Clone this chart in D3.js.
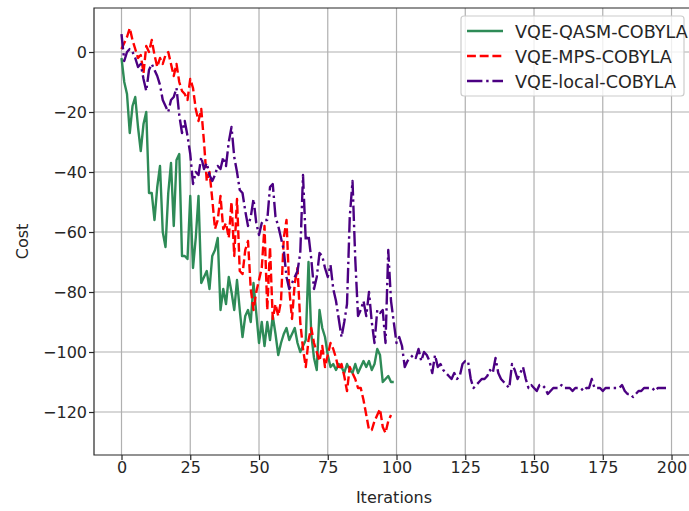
<!DOCTYPE html>
<html>
<head>
<meta charset="utf-8">
<script src="https://cdn.jsdelivr.net/npm/d3@7"></script>
<style>
  body { margin: 0; background: #fff; }
  text { font-family: "DejaVu Sans", sans-serif; fill: #262626; }
</style>
</head>
<body>
<div id="chart"></div>
<script>
// series values (iteration = array index)
var qasmCost = [
  -2, -10, -14, -27, -18, -15, -25, -33, -24, -20,
  -47, -47, -56, -45, -38, -60, -65, -47, -37, -58,
  -36, -34, -68, -68, -69, -48, -72, -62, -48, -77,
  -75, -73, -79, -68, -66, -62, -86, -79, -84, -75,
  -80, -86, -76, -86, -95, -88, -86, -90, -77, -87,
  -97, -90, -98, -90, -96, -88, -94, -101, -97, -94,
  -92, -96, -94, -92, -97, -100, -98, -96, -70, -94,
  -102, -106, -86, -92, -95, -101, -105, -104, -106, -104,
  -105, -107, -104, -106, -107, -104, -107, -105, -103, -105,
  -103, -106, -104, -99, -101, -110, -109, -108, -110, -110
];
var mpsCost = [
  1, 3, 5, 8, 4, 1, -2, -1, -7, 2,
  0, 4, -1, -5, -2, -4, -1, 0, -4, -8,
  -4, -10, -13, -14, -16, -9, -12, -19, -23, -19,
  -30, -43, -40, -49, -59, -56, -48, -59, -57, -62,
  -50, -68, -49, -73, -74, -66, -63, -79, -86, -80,
  -76, -72, -58, -86, -65, -89, -84, -88, -83, -62,
  -56, -79, -89, -77, -72, -90, -99, -105, -96, -92,
  -97, -100, -103, -98, -105, -101, -97, -99, -102, -106,
  -104, -108, -113, -105, -107, -109, -112, -112, -116, -121,
  -126, -126, -123, -121, -119, -125, -127, -123, -121
];
var localCost = [
  6, -3, 0, 1, 0, -2, -5, -4, -9, -13,
  -6, -4, -6, -8, -11, -16, -18, -20, -16, -15,
  -12, -21, -27, -23, -28, -34, -44, -40, -41, -35,
  -39, -37, -41, -43, -41, -38, -39, -35, -38, -30,
  -25, -35, -40, -46, -47, -53, -58, -55, -49, -57,
  -61, -57, -56, -56, -45, -44, -55, -58, -62, -66,
  -75, -79, -77, -75, -73, -67, -41, -63, -61, -69,
  -79, -75, -67, -68, -72, -75, -71, -79, -83, -89,
  -95, -90, -84, -55, -43, -69, -88, -86, -83, -88,
  -80, -90, -97, -86, -87, -86, -97, -66, -83, -90,
  -97, -95, -98, -105, -103, -102, -101, -102, -99, -103,
  -100, -101, -103, -107, -101, -105, -104, -106, -107, -108,
  -109, -107, -109, -108, -104, -103, -103, -109, -112, -111,
  -110, -109, -109, -108, -106, -107, -102, -107, -109, -110,
  -111, -112, -104, -106, -109, -107, -105, -109, -112, -111,
  -112, -113, -111, -111, -112, -114, -113, -112, -112, -112,
  -111, -112, -112, -112, -113, -112, -112, -112, -113, -112,
  -112, -109, -112, -112, -112, -113, -112, -112, -112, -112,
  -112, -112, -111, -113, -114, -114, -115, -114, -113, -113,
  -112, -112, -112, -112, -113, -112, -112, -112, -112
];
var seriesNames = ["VQE-QASM-COBYLA", "VQE-MPS-COBYLA", "VQE-local-COBYLA"];
var xTicks = [0, 25, 50, 75, 100, 125, 150, 175, 200];
var yTicks = [0, -20, -40, -60, -80, -100, -120];

var W = 689, H = 511;
var plotL = 94, plotT = 8, plotR = 696, plotB = 455;
var fontSize = "16px";

var svg = d3.select("#chart").append("svg")
    .attr("width", W)
    .attr("height", H);

var x = d3.scaleLinear().domain([-10, 208.9]).range([plotL, plotR]);
var y = d3.scaleLinear().domain([-134.33, 14.67]).range([plotB, plotT]);

// grid
svg.append("g").selectAll("line").data(xTicks).enter().append("line")
    .attr("x1", d => x(d)).attr("x2", d => x(d))
    .attr("y1", plotT).attr("y2", plotB)
    .attr("stroke", "#b0b0b0").attr("stroke-width", 1.2);
svg.append("g").selectAll("line").data(yTicks).enter().append("line")
    .attr("x1", plotL).attr("x2", plotR)
    .attr("y1", d => y(d)).attr("y2", d => y(d))
    .attr("stroke", "#b0b0b0").attr("stroke-width", 1.2);

// axes
var fmt = d => d < 0 ? "\u2212" + Math.abs(d) : "" + d;
var xAxis = svg.append("g")
    .attr("transform", "translate(0," + plotB + ")")
    .call(d3.axisBottom(x).tickValues(xTicks).tickFormat(fmt).tickSizeOuter(0).tickSize(5).tickPadding(2));
var yAxis = svg.append("g")
    .attr("transform", "translate(" + plotL + ",0)")
    .call(d3.axisLeft(y).tickValues(yTicks).tickFormat(fmt).tickSizeOuter(0).tickSize(5).tickPadding(2));
[xAxis, yAxis].forEach(function(g) {
  g.select(".domain").remove();
  g.selectAll("line").attr("stroke", "#262626").attr("stroke-width", 1.2);
  g.selectAll("text").style("font-size", fontSize).style("font-family", "DejaVu Sans").attr("fill", "#262626");
});

// clip + lines
svg.append("clipPath").attr("id", "clip").append("rect")
    .attr("x", plotL).attr("y", plotT).attr("width", plotR - plotL).attr("height", plotB - plotT);

var line = d3.line().x((d, i) => x(i)).y(d => y(d));
var styles = [
  {data: qasmCost, color: "#2e8b57", dash: null},
  {data: mpsCost, color: "#ff0000", dash: "8.9,3.8"},
  {data: localCost, color: "#4b0082", dash: "15.4,3.8,2.4,3.8"}
];
var plot = svg.append("g").attr("clip-path", "url(#clip)");
styles.forEach(function(s) {
  plot.append("path")
      .datum(s.data)
      .attr("d", line)
      .attr("fill", "none")
      .attr("stroke", s.color)
      .attr("stroke-width", 2.4)
      .attr("stroke-linejoin", "round")
      .attr("stroke-dasharray", s.dash);
});

// spines
svg.append("path")
    .attr("d", "M" + plotR + "," + plotT + "H" + plotL + "V" + plotB + "H" + plotR)
    .attr("fill", "none").attr("stroke", "#262626").attr("stroke-width", 1.2);

// axis labels
svg.append("text").attr("x", 394).attr("y", 503)
    .attr("text-anchor", "middle").style("font-size", fontSize).text("Iterations");
svg.append("text")
    .attr("transform", "translate(28," + ((plotT + plotB) / 2 + 10) + ") rotate(-90)")
    .attr("text-anchor", "middle").style("font-size", fontSize).text("Cost");

// legend
var lg = svg.append("g");
lg.append("rect")
    .attr("x", 461).attr("y", 16).attr("width", 223).attr("height", 80)
    .attr("rx", 3).attr("fill", "#fff").attr("fill-opacity", 0.8)
    .attr("stroke", "#cccccc").attr("stroke-width", 1.2);
styles.forEach(function(s, i) {
  var ly = 31 + i * 25;
  lg.append("line")
      .attr("x1", 467).attr("x2", 503).attr("y1", ly).attr("y2", ly)
      .attr("stroke", s.color).attr("stroke-width", 2.4)
      .attr("stroke-dasharray", s.dash);
  lg.append("text").attr("x", 515).attr("y", ly + 6.5)
      .style("font-size", "17.6px").text(seriesNames[i]);
});
</script>
</body>
</html>
